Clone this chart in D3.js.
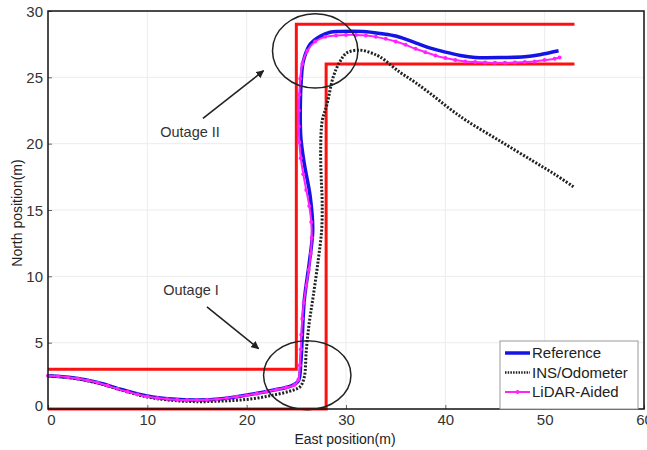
<!DOCTYPE html>
<html lang="en">
<head>
<meta charset="utf-8">
<title>Trajectory</title>
<script src="https://d3js.org/d3.v7.min.js"></script>
<style>
  body { margin: 0; background: #fff; }
  text { font-family: "Liberation Sans", Arial, sans-serif; }
</style>
</head>
<body>
<div id="chart"></div>
<script>
// road boundaries (east, north)
var boundOuter = [[0, 3], [25, 3], [25, 29], [53, 29]];
var boundInner = [[0, 0], [28, 0], [28, 26], [53, 26]];

// reference trajectory
var reference = [[0, 2.5], [2.5, 2.35], [5, 2.0], [7.5, 1.45], [10, 0.98], [12.5, 0.75], [15, 0.68],
  [17.5, 0.78], [20, 1.05], [22.5, 1.4], [24.5, 1.75], [25.2, 2.1], [25.45, 3.5], [25.6, 5.5],
  [25.8, 8.2], [26.3, 11], [26.65, 13.5], [26.4, 16], [25.8, 18.5], [25.45, 20.5], [25.4, 22.7],
  [25.5, 24.8], [25.7, 26.2], [26.4, 27.5], [27.4, 28.1], [28.4, 28.4], [29.4, 28.45], [31.7, 28.45],
  [33.5, 28.3], [35.1, 28.1], [37, 27.6], [38.5, 27.2], [40, 26.9], [41.5, 26.65], [43, 26.5],
  [46, 26.5], [48, 26.55], [49.5, 26.7], [51.4, 27.0]];

// INS/Odometer
var insOdo = [[0, 2.5], [2.5, 2.33], [5, 1.95], [7.5, 1.4], [10, 0.9], [12.5, 0.65], [15, 0.55],
  [17.5, 0.6], [20, 0.72], [22.5, 1.02], [24.7, 1.43], [25.4, 1.7], [25.8, 2.4], [26.0, 4.4],
  [26.3, 6.5], [26.7, 8.5], [27.2, 11.2], [27.55, 13.5], [27.6, 15.7], [27.5, 17.5], [27.45, 19.5],
  [27.6, 21.7], [28.1, 23], [28.7, 25], [29.4, 26.2], [30.1, 26.85], [31.4, 27.05], [32.5, 26.85],
  [33.4, 26.55], [35.4, 25.4], [37, 24.6], [38.8, 23.6], [40.5, 22.6], [42.2, 21.7], [45.5, 20.2],
  [48.8, 18.7], [51, 17.7], [53, 16.7]];

// LiDAR-aided
var lidar = [[0, 2.5], [1, 2.47], [2, 2.4], [3, 2.3], [4, 2.15], [5, 1.98], [6, 1.75], [7, 1.52],
  [8, 1.3], [9, 1.1], [10, 0.95], [11, 0.83], [12, 0.75], [13, 0.7], [14, 0.68], [15, 0.68],
  [16, 0.7], [17, 0.74], [18, 0.82], [19, 0.92], [20, 1.03], [21, 1.15], [22, 1.3], [23, 1.45],
  [24, 1.62], [24.8, 1.8], [25.2, 2.2], [25.35, 3.3], [25.45, 4.5], [25.5, 5.6], [25.6, 6.8],
  [25.75, 8], [26, 9.3], [26.25, 10.5], [26.45, 11.7], [26.55, 12.9], [26.5, 14.1], [26.3, 15.3],
  [26, 16.5], [25.7, 17.7], [25.45, 18.9], [25.3, 20.1], [25.25, 21.3], [25.25, 22.5], [25.3, 23.7],
  [25.4, 24.9], [25.6, 26], [26.1, 27], [26.9, 27.7], [27.9, 28.05], [29, 28.15], [30, 28.2],
  [31, 28.2], [32, 28.15], [33, 28.05], [34, 27.9], [35, 27.7], [36, 27.45], [37, 27.15],
  [38, 26.9], [39, 26.65], [40, 26.45], [41, 26.3], [42, 26.2], [43, 26.15], [44, 26.12],
  [45, 26.1], [46, 26.1], [47, 26.12], [48, 26.15], [49, 26.2], [50, 26.3], [51, 26.4], [51.5, 26.5]];

var xTicks = [0, 10, 20, 30, 40, 50, 60];
var yTicks = [0, 5, 10, 15, 20, 25, 30];

// annotations: ellipse centre and radii in data units, arrows from -> to
var outages = [
  {label: "Outage I", cx: 26.1, cy: 2.55, rx: 4.4, ry: 2.6, text: [11.6, 8.6], from: [16.0, 7.7], to: [21.2, 4.55]},
  {label: "Outage II", cx: 26.9, cy: 27.0, rx: 4.3, ry: 2.8, text: [11.3, 20.5], from: [15.6, 21.9], to: [21.7, 25.5]}
];

var W = 647, H = 450;
var m = {top: 11, right: 3, bottom: 41, left: 48};
var w = W - m.left - m.right, h = H - m.top - m.bottom;

var svg = d3.select("#chart").append("svg").attr("width", W).attr("height", H);
svg.append("defs").append("marker")
    .attr("id", "arrow").attr("viewBox", "0 0 10 10")
    .attr("refX", 9).attr("refY", 5)
    .attr("markerWidth", 8).attr("markerHeight", 8)
    .attr("markerUnits", "userSpaceOnUse")
    .attr("orient", "auto")
  .append("path").attr("d", "M0,0L10,5L0,10Z").attr("fill", "#222");

var g = svg.append("g").attr("transform", "translate(" + m.left + "," + m.top + ")");

var x = d3.scaleLinear().domain([0, 60]).range([0, w]);
var y = d3.scaleLinear().domain([0, 30]).range([h, 0]);

// grid
g.append("g").selectAll("line").data(xTicks.slice(1, -1)).join("line")
    .attr("x1", d => x(d)).attr("x2", d => x(d)).attr("y1", 0).attr("y2", h)
    .attr("stroke", "#ececec").attr("stroke-width", 1);
g.append("g").selectAll("line").data(yTicks.slice(1, -1)).join("line")
    .attr("y1", d => y(d)).attr("y2", d => y(d)).attr("x1", 0).attr("x2", w)
    .attr("stroke", "#ececec").attr("stroke-width", 1);

// axes
var xAxis = g.append("g").attr("transform", "translate(0," + h + ")")
    .call(d3.axisBottom(x).tickValues(xTicks).tickSize(-4).tickPadding(5));
var yAxis = g.append("g")
    .call(d3.axisLeft(y).tickValues(yTicks).tickSize(-4).tickPadding(5));
[xAxis, yAxis].forEach(function (a) {
  a.select(".domain").remove();
  a.selectAll(".tick line").attr("stroke", "#666");
  a.selectAll("text").attr("font-size", 15).attr("fill", "#333")
    .attr("font-family", "'Liberation Sans', Arial, sans-serif");
});
yAxis.selectAll(".tick text").attr("dy", "0.35em");
xAxis.selectAll(".tick").filter(d => d === 0).select("text").attr("dx", 3);
yAxis.selectAll(".tick").filter(d => d === 0).select("text").attr("dy", "0.1em");

var line = d3.line().x(d => x(d[0])).y(d => y(d[1]));
var smooth = d3.line().x(d => x(d[0])).y(d => y(d[1])).curve(d3.curveCatmullRom.alpha(0.5));

// boundaries
[boundOuter, boundInner].forEach(function (b) {
  g.append("path").datum(b).attr("d", line)
    .attr("fill", "none").attr("stroke", "#ff1010").attr("stroke-width", 3);
});

// trajectories
g.append("path").datum(reference).attr("d", smooth)
  .attr("fill", "none").attr("stroke", "#1414e6").attr("stroke-width", 3.5);
g.append("path").datum(insOdo).attr("d", smooth)
  .attr("fill", "none").attr("stroke", "#222").attr("stroke-width", 3)
  .attr("stroke-dasharray", "2,1.6");
g.append("path").datum(lidar).attr("d", smooth)
  .attr("fill", "none").attr("stroke", "#ff22ff").attr("stroke-width", 2);
g.append("g").selectAll("circle").data(lidar).join("circle")
  .attr("cx", d => x(d[0])).attr("cy", d => y(d[1])).attr("r", 2)
  .attr("fill", "#ff22ff");

// frame
g.append("rect").attr("width", w).attr("height", h)
  .attr("fill", "none").attr("stroke", "#111").attr("stroke-width", 1.5);

// annotations
outages.forEach(function (o) {
  g.append("ellipse")
    .attr("cx", x(o.cx)).attr("cy", y(o.cy))
    .attr("rx", x(o.rx) - x(0)).attr("ry", y(0) - y(o.ry))
    .attr("fill", "none").attr("stroke", "#222").attr("stroke-width", 1.5);
  g.append("line")
    .attr("x1", x(o.from[0])).attr("y1", y(o.from[1]))
    .attr("x2", x(o.to[0])).attr("y2", y(o.to[1]))
    .attr("stroke", "#222").attr("stroke-width", 1.6)
    .attr("marker-end", "url(#arrow)");
  g.append("text").attr("x", x(o.text[0])).attr("y", y(o.text[1]))
    .attr("font-size", 14.5).attr("fill", "#333").text(o.label);
});

// legend
var legendItems = [
  {name: "Reference", color: "#1414e6", width: 3.5, dash: null, dot: false},
  {name: "INS/Odometer", color: "#222", width: 2.5, dash: "1.5,1.2", dot: false},
  {name: "LiDAR-Aided", color: "#ff22ff", width: 2, dash: null, dot: true}
];
var lg = svg.append("g").attr("transform", "translate(500,341)");
lg.append("rect").attr("width", 138).attr("height", 68)
  .attr("fill", "#fff").attr("stroke", "#999").attr("stroke-width", 1);
legendItems.forEach(function (d, i) {
  var yy = 12 + i * 19.5;
  lg.append("line").attr("x1", 5).attr("x2", 30).attr("y1", yy).attr("y2", yy)
    .attr("stroke", d.color).attr("stroke-width", d.width)
    .attr("stroke-dasharray", d.dash);
  if (d.dot) lg.append("circle").attr("cx", 17.5).attr("cy", yy).attr("r", 2).attr("fill", d.color);
  lg.append("text").attr("x", 32).attr("y", yy).attr("dy", "0.36em")
    .attr("font-size", 15).attr("fill", "#222").text(d.name);
});

// axis titles
svg.append("text").attr("x", m.left + x(30) - 1).attr("y", 444)
  .attr("text-anchor", "middle").attr("font-size", 14).attr("fill", "#222")
  .text("East position(m)");
svg.append("text").attr("transform", "translate(22,213) rotate(-90)")
  .attr("text-anchor", "middle").attr("font-size", 14).attr("fill", "#222")
  .text("North position(m)");
</script>
</body>
</html>
